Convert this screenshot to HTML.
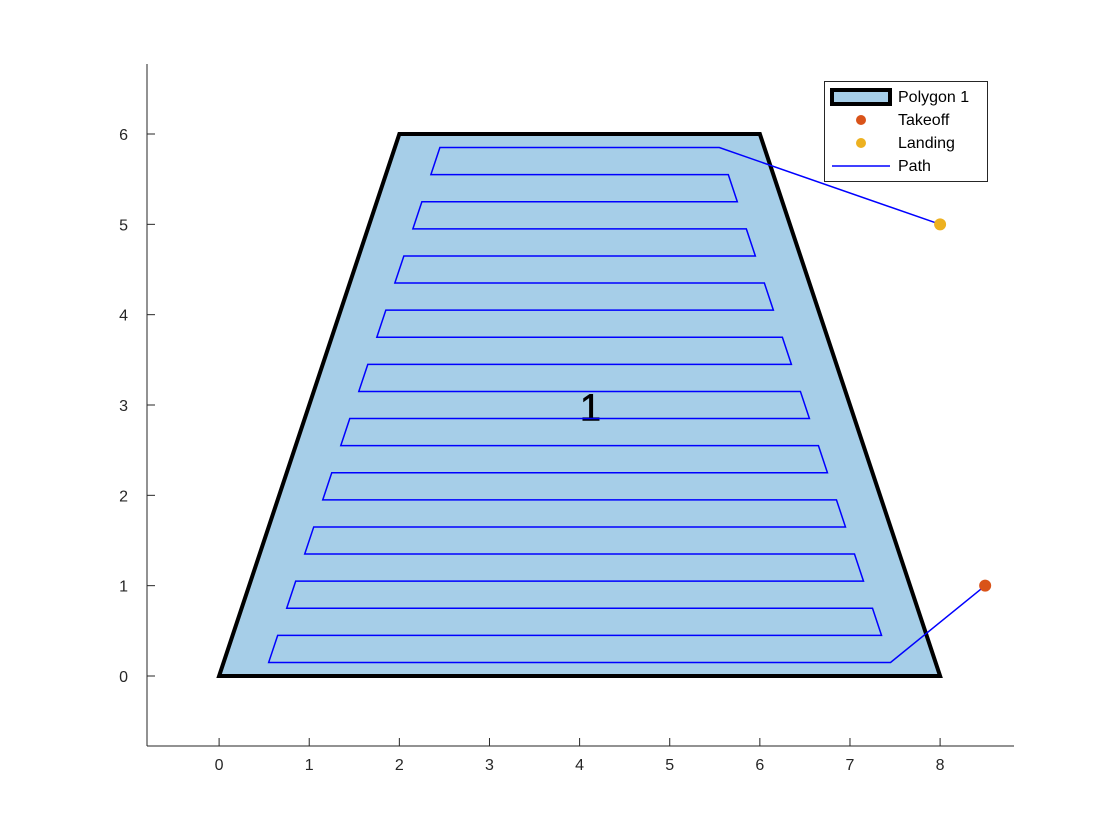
<!DOCTYPE html>
<html><head><meta charset="utf-8"><style>
body{margin:0;background:#fff}
svg{display:block;font-family:"Liberation Sans",Arial,sans-serif}
</style></head><body>
<svg id="chart" width="1120" height="840" viewBox="0 0 1120 840" xmlns="http://www.w3.org/2000/svg">
<rect width="1120" height="840" fill="#fff"/>
<g id="plot"></g>
</svg>
<script>
const polyX=[0,2,6,8];
const polyY=[0,6,6,0];
const pathX=[8.5,7.45,0.55,0.65,7.35,7.25,0.75,0.85,7.15,7.05,0.95,1.05,6.95,6.85,1.15,1.25,6.75,6.65,1.35,1.45,6.55,6.45,1.55,1.65,6.35,6.25,1.75,1.85,6.15,6.05,1.95,2.05,5.95,5.85,2.15,2.25,5.75,5.65,2.35,2.45,5.55,8];
const pathY=[1,0.15,0.15,0.45,0.45,0.75,0.75,1.05,1.05,1.35,1.35,1.65,1.65,1.95,1.95,2.25,2.25,2.55,2.55,2.85,2.85,3.15,3.15,3.45,3.45,3.75,3.75,4.05,4.05,4.35,4.35,4.65,4.65,4.95,4.95,5.25,5.25,5.55,5.55,5.85,5.85,5];
const takeoff=[8.5,1];
const landing=[8,5];
const labelPos=[4.12,2.97];
const xTicks=[0,1,2,3,4,5,6,7,8];
const yTicks=[0,1,2,3,4,5,6];
const xMin=-0.8,xMax=8.82,yMin=-0.775,yMax=6.775;
const L=147,R=1014,T=64,B=746;
const sx=v=>L+(v-xMin)/(xMax-xMin)*(R-L);
const sy=v=>B-(v-yMin)/(yMax-yMin)*(B-T);
const NS="http://www.w3.org/2000/svg";
const g=document.getElementById('plot');
function mk(t,a,p){const e=document.createElementNS(NS,t);for(const k in a)e.setAttribute(k,a[k]);(p||g).appendChild(e);return e;}

const poly=mk('polygon',{points:polyX.map((x,i)=>sx(x)+','+sy(polyY[i])).join(' '),fill:'#a6cee8',stroke:'#000','stroke-width':4,'stroke-linejoin':'miter'});



const lbl=mk('text',{x:sx(labelPos[0]),y:sy(labelPos[1])+13,'text-anchor':'middle','font-size':38,fill:'#000','stroke':'#000','stroke-width':0.6});
lbl.textContent='1';



const path=mk('polyline',{points:pathX.map((x,i)=>sx(x)+','+sy(pathY[i])).join(' '),fill:'none',stroke:'#0000ff','stroke-width':1.5});



const tk=mk('circle',{cx:sx(takeoff[0]),cy:sy(takeoff[1]),r:6,fill:'#d95319'});


const ld=mk('circle',{cx:sx(landing[0]),cy:sy(landing[1]),r:6,fill:'#edb120'});



const xa=mk('line',{x1:L,y1:B,x2:R,y2:B,stroke:'#262626','stroke-width':1});


const ya=mk('line',{x1:L,y1:B,x2:L,y2:T,stroke:'#262626','stroke-width':1});


xTicks.forEach(v=>{
  const x=sx(v);
  const t=mk('line',{x1:x,y1:B,x2:x,y2:B-8,stroke:'#262626'});
  
  
  const s=mk('text',{x:x,y:B+24,'text-anchor':'middle','font-size':16,fill:'#262626'});
  s.textContent=v;
  
  
});
yTicks.forEach(v=>{
  const y=sy(v);
  const t=mk('line',{x1:L,y1:y,x2:L+8,y2:y,stroke:'#262626'});
  
  
  const s=mk('text',{x:L-19,y:y+6,'text-anchor':'end','font-size':16,fill:'#262626'});
  s.textContent=v;
  
  
});

const lg=mk('g',{});


mk('rect',{x:824.5,y:81.5,width:163,height:100,fill:'#fff',stroke:'#262626','stroke-width':1},lg);
const entries=['Polygon 1','Takeoff','Landing','Path'];
entries.forEach((name,i)=>{
  const y=97+i*23;
  const e=mk('g',{},lg);
  
  
  if(i===0) mk('rect',{x:832,y:y-7,width:58,height:14,fill:'#a6cee8',stroke:'#000','stroke-width':4},e);
  if(i===1) mk('circle',{cx:861,cy:y,r:5,fill:'#d95319'},e);
  if(i===2) mk('circle',{cx:861,cy:y,r:5,fill:'#edb120'},e);
  if(i===3) mk('line',{x1:832,y1:y,x2:890,y2:y,stroke:'#0000ff','stroke-width':1.5},e);
  const t=mk('text',{x:898,y:y+5,'font-size':16,fill:'#000'},e);
  t.textContent=name;
});
</script>
</body></html>
